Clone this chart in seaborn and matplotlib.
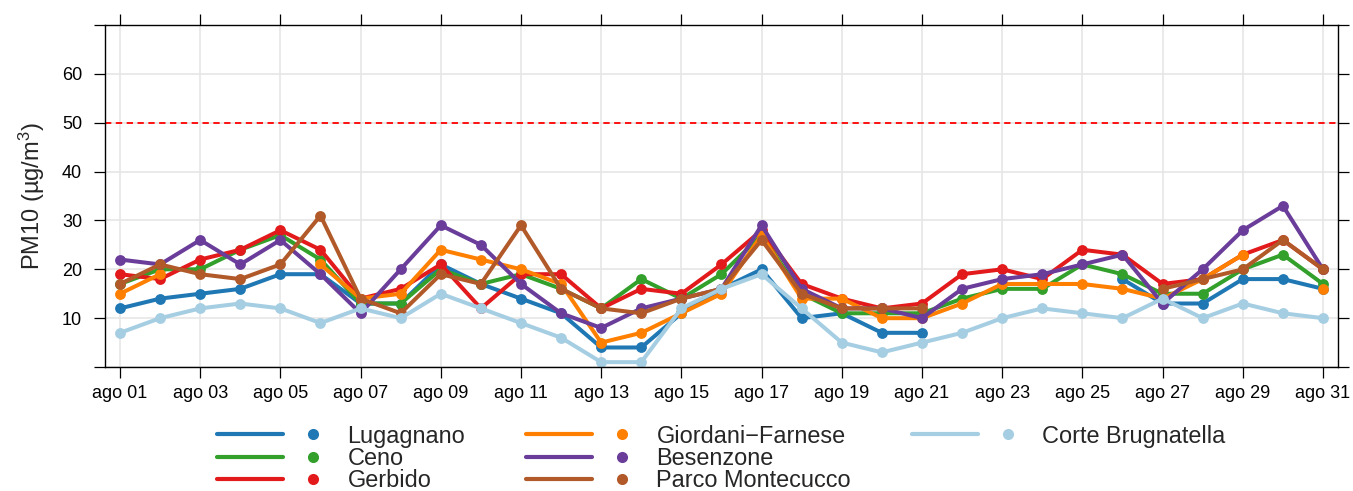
import numpy as np
import pandas as pd
import matplotlib
matplotlib.use("Agg")
import matplotlib.pyplot as plt
from matplotlib.lines import Line2D
from matplotlib.legend_handler import HandlerTuple
import seaborn as sns

nan = np.nan

# PM10 daily values, August (ago 01 .. ago 31)
days = list(range(1, 32))
stations = ["Lugagnano", "Ceno", "Gerbido", "Giordani\u2212Farnese",
            "Besenzone", "Parco Montecucco", "Corte Brugnatella"]
colors = ["#1F78B4", "#33A02C", "#E31A1C", "#FF7F00",
          "#6A3D9A", "#B15928", "#A6CEE3"]

lugagnano = [12, 14, 15, 16, 19, 19, 13, 13, 21, 17, 14, 11, 4, 4, 11, 16,
             20, 10, 11, 7, 7, nan, nan, nan, nan, 18, 13, 13, 18, 18, 16]
ceno = [17, 20, 20, 24, 27, 22, 13, 13, 20, 17, 19, 16, 12, 18, 14, 19,
        27, 15, 11, 11, 11, 14, 16, 16, 21, 19, 15, 15, 20, 23, 17]
gerbido = [19, 18, 22, 24, 28, 24, 14, 16, 21, 12, 19, 19, 12, 16, 15, 21,
           28, 17, 14, 12, 13, 19, 20, 18, 24, 23, 17, 18, 23, 26, 20]
giordani = [15, 19, nan, nan, nan, 21, 14, 15, 24, 22, 20, 17, 5, 7, 11, 15,
            27, 14, 14, 10, 10, 13, 17, 17, 17, 16, 14, 18, 23, nan, 16]
besenzone = [22, 21, 26, 21, 26, 19, 11, 20, 29, 25, 17, 11, 8, 12, 14, 16,
             29, 16, 12, 12, 10, 16, 18, 19, 21, 23, 13, 20, 28, 33, 20]
parco = [17, 21, 19, 18, 21, 31, 14, 11, 19, 17, 29, 16, 12, 11, 14, 16,
         26, 15, 12, 12, 12, nan, nan, nan, nan, nan, 16, 18, 20, 26, 20]
corte = [7, 10, 12, 13, 12, 9, 12, 10, 15, 12, 9, 6, 1, 1, 12, 16,
         19, 12, 5, 3, 5, 7, 10, 12, 11, 10, 14, 10, 13, 11, 10]

series = [lugagnano, ceno, gerbido, giordani, besenzone, parco, corte]
limit = 50

tick_days = days[::2]
tick_labels = [f"ago {d:02d}" for d in tick_days]
y_ticks = [0, 10, 20, 30, 40, 50, 60, 70]
y_labels = ["", "10", "20", "30", "40", "50", "60", ""]

# long table; 'seg' splits each series at missing days so the line breaks
rows = []
for name, vals in zip(stations, series):
    seg = 0
    for d, v in zip(days, vals):
        if np.isnan(v):
            seg += 1
            continue
        rows.append({"day": d, "pm10": v, "station": name, "seg": seg})
df = pd.DataFrame(rows)

sns.set_style("ticks")
plt.rcParams["font.family"] = ["Liberation Sans", "DejaVu Sans"]
plt.rcParams["mathtext.fontset"] = "custom"
plt.rcParams["mathtext.rm"] = "Liberation Sans"
plt.rcParams["mathtext.it"] = "Liberation Sans:italic"

fig = plt.figure(figsize=(13.53, 4.91), dpi=100)
ax = fig.add_axes([0.0776, 0.2525, 0.9113, 0.6965])

ax.axhline(limit, color="red", ls=(0, (3.5, 2.5)), lw=1.3, zorder=1.5)

sns.lineplot(data=df, x="day", y="pm10", hue="station", units="seg",
             estimator=None, hue_order=stations, palette=colors,
             marker="o", markersize=7.8, markeredgewidth=0, linewidth=2.9,
             legend=False, ax=ax)

ax.set_xlim(0.626, 31.374)
ax.set_ylim(0, 70)
ax.set_xticks(tick_days)
ax.set_xticklabels(tick_labels)
ax.set_yticks(y_ticks)
ax.set_yticklabels(y_labels)
ax.grid(True, color="#e6e6e6", lw=1.2)
ax.set_axisbelow(True)
for sp in ax.spines.values():
    sp.set_visible(True)
    sp.set_color("black")
    sp.set_linewidth(1.0)
ax.tick_params(axis="both", direction="out", length=8, width=0.9,
               top=True, right=True, labeltop=False, labelright=False,
               labelsize=13, colors="black")
ax.tick_params(axis="y", pad=8.5)
ax.tick_params(axis="x", pad=5)
ax.set_xlabel("")
ax.set_ylabel("PM10 (\u00b5g/m$^3$)", fontsize=17, labelpad=11)

handles = [(Line2D([], [], color=c, lw=3),
            Line2D([], [], color=c, marker="o", ls="none", ms=8, mew=0))
           for c in colors]
labels = list(stations)
# two empty slots so the columns fill 3 / 3 / 1
for _ in range(2):
    handles.append(Line2D([], [], ls="none"))
    labels.append("")
fig.legend(handles, labels, loc="upper center", bbox_to_anchor=(0.5332, 0.159),
           ncol=3, frameon=False, fontsize=16.9, borderpad=0,
           handlelength=5.5, handletextpad=0.05, columnspacing=2.6,
           labelspacing=-0.04, numpoints=1,
           handler_map={tuple: HandlerTuple(ndivide=None, pad=-0.128)})

fig.savefig("out.png", dpi=100)
